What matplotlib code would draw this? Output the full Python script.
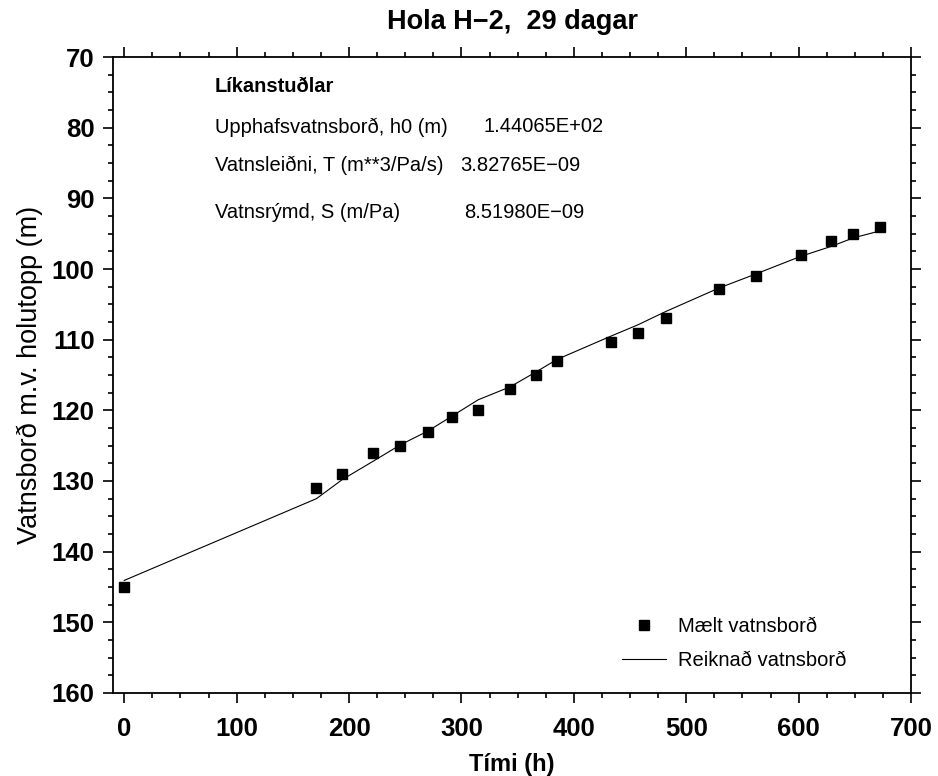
import matplotlib
matplotlib.use('Agg')
import matplotlib.pyplot as plt
from matplotlib.ticker import MultipleLocator
from matplotlib.lines import Line2D

plt.rcParams['font.family'] = ['Liberation Sans', 'DejaVu Sans']

# measured water level (m below well top) vs time (h)
t_meas = [0, 171, 194, 221.5, 245.5, 270.5, 291.8, 315, 343, 366, 385,
          433, 457, 482, 529, 562, 602, 629, 648.6, 672.6]
h_meas = [145, 131, 129, 126, 125, 123, 121, 120, 117, 115, 113,
          110.3, 109, 107, 102.8, 101, 98, 96, 95, 94]

# computed (model) water level
t_calc = [0, 171, 194, 221.5, 245.5, 270.5, 291.8, 315, 343, 366, 385,
          433, 457, 482, 529, 562, 602, 629, 648.6, 672.6]
h_calc = [144.07, 132.5, 129.8, 127.2, 124.9, 122.9, 120.8, 118.5, 116.7, 114.6, 112.8,
          109.5, 107.9, 106.0, 102.7, 100.7, 98.2, 96.8, 95.6, 94.6]

params = ['Upphafsvatnsborð, h0 (m)', 'Vatnsleiðni, T (m**3/Pa/s)', 'Vatnsrýmd, S (m/Pa)']
values = ['1.44065E+02', '3.82765E\u221209', '8.51980E\u221209']

fig = plt.figure(figsize=(9.38, 7.76), dpi=100)
ax = fig.add_axes([0.1205, 0.1070, 0.8507, 0.8195])

ax.plot(t_calc, h_calc, color='black', lw=0.8)
ax.plot(t_meas, h_meas, ls='none', marker='s', ms=7, color='black')

ax.set_xlim(-10, 700)
ax.set_ylim(160, 70)
ax.xaxis.set_major_locator(MultipleLocator(100))
ax.xaxis.set_minor_locator(MultipleLocator(25))
ax.yaxis.set_major_locator(MultipleLocator(10))
ax.yaxis.set_minor_locator(MultipleLocator(2.5))
ax.tick_params(which='both', direction='out', top=True, right=True, width=1.2)
ax.tick_params(which='major', length=7.2, labelsize=18.5)
ax.tick_params(which='minor', length=3.6)
ax.tick_params(axis='x', which='major', pad=10)
ax.tick_params(axis='y', which='major', pad=6)
for lab in ax.get_xticklabels() + ax.get_yticklabels():
    lab.set_fontweight('bold')
for sp in ax.spines.values():
    sp.set_linewidth(1.3)

ax.set_title('Hola H\u22122,  29 dagar', fontsize=19.5, fontweight='bold', pad=20)
ax.set_xlabel('Tími (h)', fontsize=17, fontweight='bold', labelpad=9)
ax.set_ylabel('Vatnsborð m.v. holutopp (m)', fontsize=19.5, labelpad=6)

# parameter block
fs = 14.5
ax.text(0.1278, 0.9544, 'Líkanstuðlar', transform=ax.transAxes, fontsize=fs,
        fontweight='bold', va='center')
ys = [0.890, 0.830, 0.756]
vx = [0.4637, 0.4348, 0.4398]
for p, v, y, x in zip(params, values, ys, vx):
    ax.text(0.1278, y, p, transform=ax.transAxes, fontsize=fs, va='center')
    ax.text(x, y, v, transform=ax.transAxes, fontsize=fs, va='center')

handles = [Line2D([], [], ls='none', marker='s', ms=7, color='black'),
           Line2D([], [], color='black', lw=0.8)]
ax.legend(handles, ['Mælt vatnsborð', 'Reiknað vatnsborð'], loc='lower right',
          bbox_to_anchor=(0.942, 0.007), frameon=False, fontsize=fs,
          handlelength=2.2, labelspacing=0.75, handletextpad=0.6)

fig.savefig('out.png', dpi=100)
